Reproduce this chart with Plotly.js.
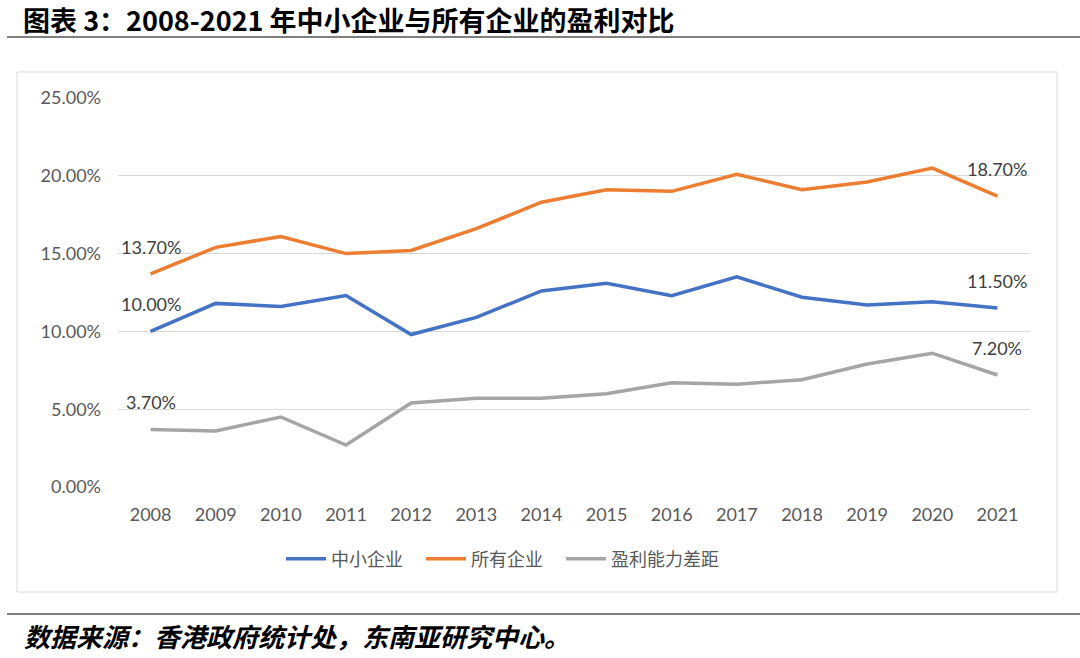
<!DOCTYPE html>
<html><head><meta charset="utf-8">
<script src="https://cdn.plot.ly/plotly-3.0.1.min.js"></script>
<style>html,body{margin:0;padding:0;background:#fff;}#chart{width:1080px;height:658px;}</style>
</head><body><div id="chart"></div>
<script>
const years = ['2008','2009','2010','2011','2012','2013','2014','2015','2016','2017','2018','2019','2020','2021'];
const smeValues = [10.0,11.8,11.6,12.3,9.8,10.9,12.6,13.1,12.3,13.5,12.2,11.7,11.9,11.5];
const allValues = [13.7,15.4,16.1,15.0,15.2,16.6,18.3,19.1,19.0,20.1,19.1,19.6,20.5,18.7];
const gapValues = [3.7,3.6,4.5,2.7,5.4,5.7,5.7,6.0,6.7,6.6,6.9,7.9,8.6,7.2];
const seriesNames = ['中小企业','所有企业','盈利能力差距'];
const yTickVals = [0,5,10,15,20,25];
const yTickText = ['0.00%','5.00%','10.00%','15.00%','20.00%','25.00%'];
const titleText = '图表 3：2008-2021 年中小企业与所有企业的盈利对比';
const sourceText = '数据来源：香港政府统计处，东南亚研究中心。';

const colors = ['#4472C4','#ED7D31','#A5A5A5'];
const legendWidths = [85, 85, 0];
const allSeries = [smeValues, allValues, gapValues];
const W = 1080, H = 658;
const px = x => x / W, py = y => 1 - y / H;
const latin = 'Lato, "Open Sans", sans-serif';

const traces = allSeries.map((vals, i) => {
  const t = {
    x: years, y: vals, type: 'scatter', mode: 'lines', name: seriesNames[i],
    line: {color: colors[i], width: 3.5}, hoverinfo: 'skip'
  };
  if (legendWidths[i]) t.legendwidth = legendWidths[i];
  return t;
});

const annotations = [];
allSeries.forEach((vals) => {
  [0, vals.length - 1].forEach(idx => {
    annotations.push({
      x: idx, y: vals[idx], xref: 'x', yref: 'y',
      text: vals[idx].toFixed(2) + '%', showarrow: false, yshift: 27,
      xanchor: 'center', yanchor: 'middle',
      font: {family: latin, size: 18, color: '#404040'}
    });
  });
});
annotations.push({
  xref: 'paper', yref: 'paper', x: px(21), y: py(19), xanchor: 'left', yanchor: 'middle',
  text: '<b>' + titleText + '</b>', showarrow: false,
  font: {family: '"Noto Sans CJK SC", sans-serif', size: 27, color: '#000'}
});
annotations.push({
  xref: 'paper', yref: 'paper', x: px(22), y: py(635), xanchor: 'left', yanchor: 'middle',
  text: '<b><i>' + sourceText + '</i></b>', showarrow: false,
  font: {family: '"Noto Sans CJK SC", sans-serif', size: 26, color: '#000'}
});

const shapes = [
  {type: 'line', xref: 'paper', yref: 'paper', x0: px(7), x1: px(1080), y0: py(37), y1: py(37), line: {color: '#555', width: 1.5}},
  {type: 'line', xref: 'paper', yref: 'paper', x0: px(7), x1: px(1080), y0: py(614), y1: py(614), line: {color: '#555', width: 1.5}},
  {type: 'rect', xref: 'paper', yref: 'paper', x0: px(17), x1: px(1057), y0: py(72), y1: py(592), line: {color: '#D9D9D9', width: 1}}
];

const layout = {
  width: W, height: H, margin: {l: 0, r: 0, t: 0, b: 0},
  paper_bgcolor: '#fff', plot_bgcolor: '#fff', showlegend: true,
  font: {family: latin, color: '#595959'},
  xaxis: {
    domain: [px(118), px(1030)], type: 'category', range: [-0.5, 13.5],
    showgrid: false, zeroline: false, showline: false, ticks: '',
    tickfont: {size: 18, color: '#595959'}, ticklabelstandoff: 15, fixedrange: true
  },
  yaxis: {
    domain: [py(487), py(98)], range: [0, 25], tickvals: yTickVals, ticktext: yTickText,
    showgrid: true, gridcolor: '#D9D9D9', gridwidth: 1, zeroline: false, showline: false, ticks: '',
    tickfont: {size: 18, color: '#595959'}, ticklabelstandoff: 16, fixedrange: true
  },
  legend: {
    orientation: 'h', x: px(281), xanchor: 'left', y: py(559), yanchor: 'middle',
    font: {family: '"Noto Sans CJK SC", sans-serif', size: 18, color: '#595959'},
    itemwidth: 40, bgcolor: 'rgba(0,0,0,0)'
  },
  annotations: annotations, shapes: shapes
};

Plotly.newPlot('chart', traces, layout, {displayModeBar: false, staticPlot: true});
</script></body></html>
